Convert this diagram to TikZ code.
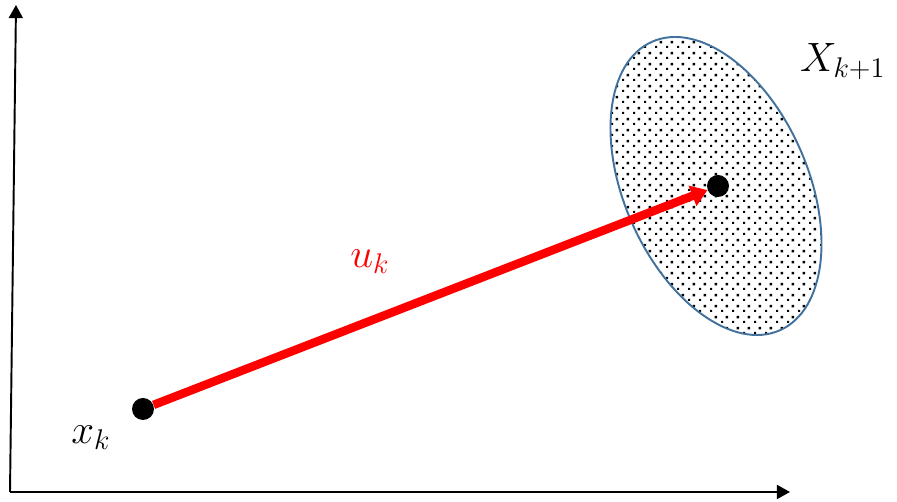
\documentclass[tikz,border=0pt]{standalone}
\usepackage{amsmath}
\usepackage{tikz}
\usetikzlibrary{arrows.meta,patterns.meta,positioning}

\definecolor{setblue}{HTML}{41719C}
\definecolor{ctrlred}{HTML}{FF0000}

\tikzdeclarepattern{
  name=setdots,
  type=uncolored,
  bottom left={(-.5pt,-.5pt)},
  top right={(5.5pt,5.5pt)},
  tile size={(6pt,6pt)},
  code={
    \fill (-.75pt,-.75pt) rectangle (.75pt,.75pt);
    \fill (2.25pt,2.25pt) rectangle (3.75pt,3.75pt);
  }
}

\begin{document}
\begin{tikzpicture}[x=0.02cm, y=0.02cm, >=Triangle,
  label/.style={font=\LARGE, scale=1.35},
  point/.style={circle, fill=black, inner sep=0pt, minimum size=0.44cm},
  axis/.style={->, line width=1.1pt, >={Triangle[length=7.5pt,width=8pt]}}]
\path[use as bounding box] (0,0) rectangle (897,502);
% axes
\coordinate (O) at (10,10);
\coordinate (Ytip) at (16,497);
\coordinate (Xtip) at (790,10);
\draw[axis] (O) -- (Ytip);
\draw[axis] (O) -- (Xtip);
% reachable set
\coordinate (C) at (716,316);
\draw[setblue, line width=1.1pt, pattern={setdots}, pattern color=black,
  rotate around={113.9:(C)}] (C) ellipse [x radius=157.8, y radius=91.8];
% states
\node[point] (xk) at (143,93) {};
\node[point] (xk1) at (718,316) {};
\draw[->, ctrlred, line width=0.17cm, >={Triangle[length=0.32cm,width=0.42cm]}] (xk) -- (xk1);
% labels
\node[label] (xklabel) at (91,64) {$x_k$};
\node[label, text=ctrlred] (uklabel) at (370,240) {$u_k$};
\node[label] (Xlabel) at (843,440) {$X_{k+1}$};
\end{tikzpicture}
\end{document}
